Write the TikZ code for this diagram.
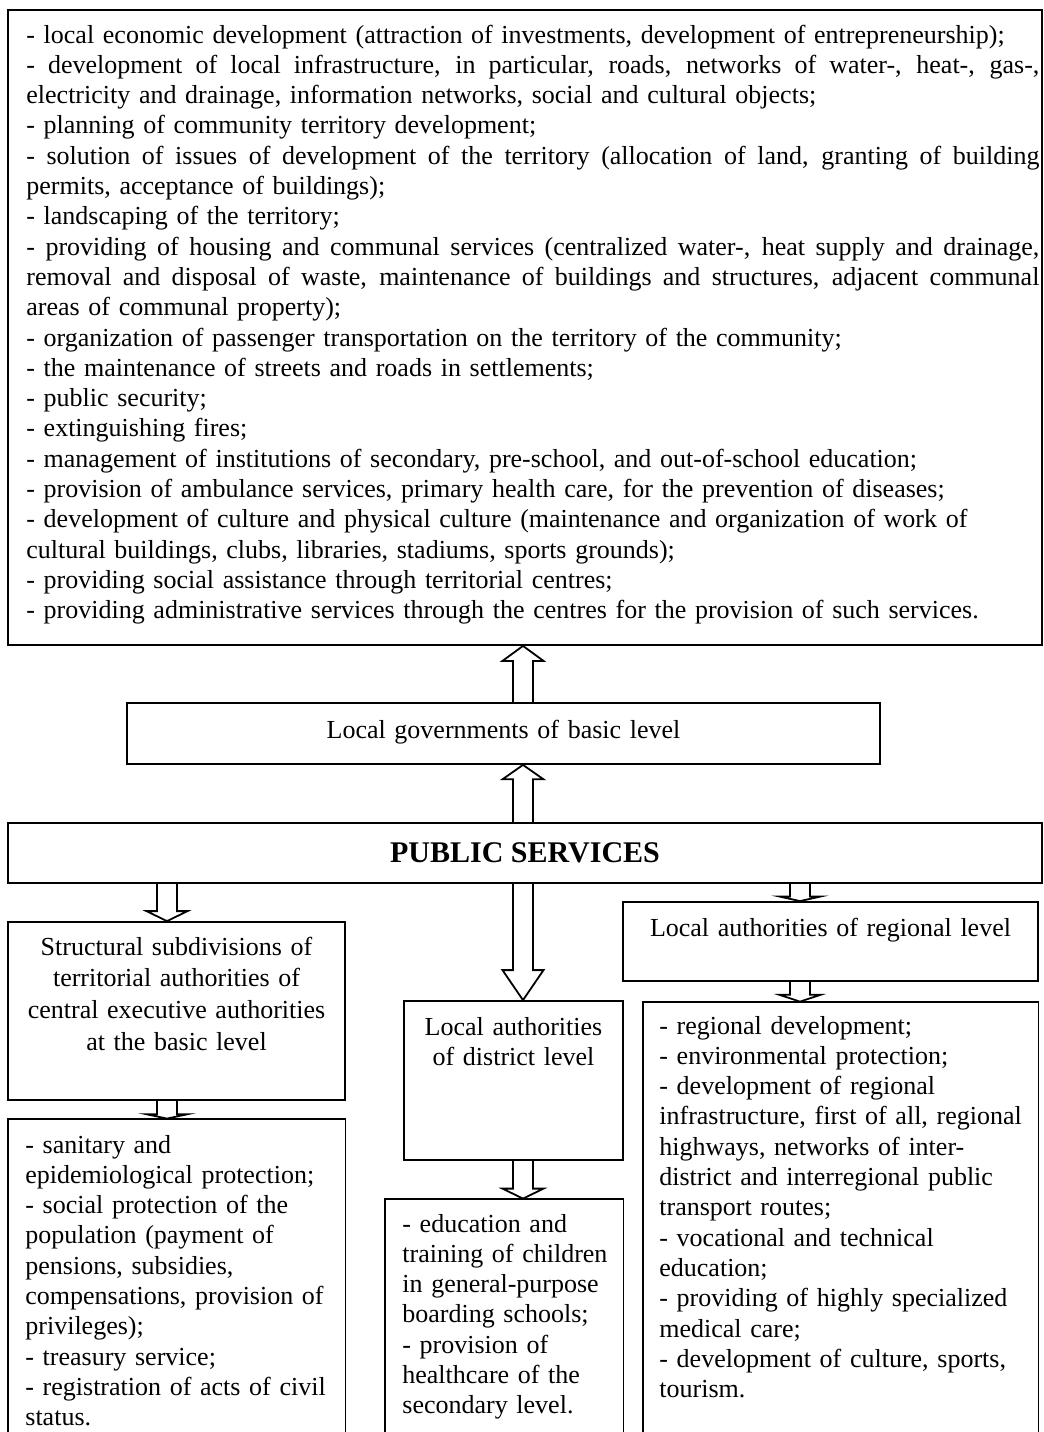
\documentclass[tikz,border=0pt]{standalone}
\usepackage{fontspec}
\setmainfont{Liberation Serif}
\usetikzlibrary{calc,fit}
\tikzset{
  box/.style={draw=black, line width=0.9pt, inner sep=0pt},
  openbox/.style={inner sep=0pt},
  listtxt/.style={inner sep=0pt, font=\fontsize{13}{15.15}\selectfont, align=left, text width=#1, anchor=base west},
  titletxt/.style={inner sep=0pt, font=\fontsize{13}{#1}\selectfont, align=center, text width=200pt, anchor=base},
  barrow/.style={draw=black, line width=0.9pt, line join=miter, to path={
    let \p1=(\tikztostart), \p2=(\tikztotarget), \p3=($(\tikztotarget)!#1!(\tikztostart)$) in
    (\x1-5pt,\y1) -- (\x1-5pt,\y3) -- (\x1-10.25pt,\y3) -- (\x1,\y2)
    -- (\x1+10.25pt,\y3) -- (\x1+5pt,\y3) -- (\x1+5pt,\y1)}},
}
\newcommand{\jline}[1]{\leavevmode\hbox to 506.5pt{\spaceskip=0.25em plus 1fil\relax #1}}
\begin{document}
\begin{tikzpicture}[x=0.5pt,y=-0.5pt]
\useasboundingbox (0,0) rectangle (1044,1432);
% boxes
\node[box, fit={(8,10) (1042,645)}] (topbox) {};
\node[box, fit={(127,703) (880,764)}] (lg) {};
\node[box, fit={(8,823) (1042,883)}] (ps) {};
\node[box, fit={(8,922) (345,1100)}] (sb) {};
\node[box, fit={(404,1001) (623,1160)}] (db) {};
\node[box, fit={(623,902) (1038,981)}] (rb) {};
\node[openbox, fit={(8,1119) (345,1432)}] (sl) {};
\node[openbox, fit={(385,1199) (623,1432)}] (dl) {};
\node[openbox, fit={(643,1002) (1038,1432)}] (rl) {};
\draw[line width=0.9pt] (sl.south west) -- (sl.north west) -- (sl.north east) -- (sl.south east);
\draw[line width=0.9pt] (dl.south west) -- (dl.north west) -- (dl.north east) -- (dl.south east);
\draw[line width=0.9pt] (rl.south west) -- (rl.north west) -- (rl.north east) -- (rl.south east);
% texts
\node[listtxt=506.5pt] (toptext) at (26,43) {%
- local economic development (attraction of investments, development of entrepreneurship);\\
\jline{- development of local infrastructure, in particular, roads, networks of water-, heat-, gas-,}\\
electricity and drainage, information networks, social and cultural objects;\\
- planning of community territory development;\\
\jline{- solution of issues of development of the territory (allocation of land, granting of building}\\
permits, acceptance of buildings);\\
- landscaping of the territory;\\
\jline{- providing of housing and communal services (centralized water-, heat supply and drainage,}\\
\jline{removal and disposal of waste, maintenance of buildings and structures, adjacent communal}\\
areas of communal property);\\
- organization of passenger transportation on the territory of the community;\\
- the maintenance of streets and roads in settlements;\\
- public security;\\
- extinguishing fires;\\
- management of institutions of secondary, pre-school, and out-of-school education;\\
- provision of ambulance services, primary health care, for the prevention of diseases;\\
- development of culture and physical culture (maintenance and organization of work of\\
cultural buildings, clubs, libraries, stadiums, sports grounds);\\
- providing social assistance through territorial centres;\\
- providing administrative services through the centres for the provision of such services.};
\node[titletxt=15.15, text width=370pt] (lgtext) at (503.5,738) {Local governments of basic level};
\node[inner sep=0pt, anchor=base, font=\fontsize{15}{18}\selectfont\bfseries] (pstext) at (525,862) {PUBLIC SERVICES};
\node[titletxt=15.85, text width=165pt] (sbtext) at (176.5,955) {Structural subdivisions of\\ territorial authorities of\\ central executive authorities\\ at the basic level};
\node[titletxt=15, text width=105pt] (dbtext) at (513.5,1035) {Local authorities\\ of district level};
\node[titletxt=15.15] (rbtext) at (830.5,936) {Local authorities of regional level};
\node[listtxt=180pt] (sltext) at (25,1153) {%
- sanitary and\\
epidemiological protection;\\
- social protection of the\\
population (payment of\\
pensions, subsidies,\\
compensations, provision of\\
privileges);\\
- treasury service;\\
- registration of acts of civil\\
status.};
\node[listtxt=140pt] (dltext) at (402,1232) {%
- education and\\
training of children\\
in general-purpose\\
boarding schools;\\
- provision of\\
healthcare of the\\
secondary level.};
\node[listtxt=200pt] (rltext) at (659,1034) {%
- regional development;\\
- environmental protection;\\
- development of regional\\
infrastructure, first of all, regional\\
highways, networks of inter-\\
district and interregional public\\
transport routes;\\
- vocational and technical\\
education;\\
- providing of highly specialized\\
medical care;\\
- development of culture, sports,\\
tourism.};
% arrow axes
\coordinate (ax) at (523,0);
\coordinate (bx) at (167,0);
\coordinate (cx) at (800,0);
% arrows
\draw[barrow=7.5pt] (lg.north -| ax) to (topbox.south -| ax);
\draw[barrow=7.2pt] (ps.north -| ax) to (lg.south -| ax);
\draw[barrow=5pt] (ps.south -| bx) to (sb.north -| bx);
\draw[barrow=15pt] (ps.south -| ax) to (db.north -| ax);
\draw[barrow=2.3pt] (ps.south -| cx) to (rb.north -| cx);
\draw[barrow=3.4pt] (rb.south -| cx) to (rl.north -| cx);
\draw[barrow=2.2pt] (sb.south -| bx) to (sl.north -| bx);
\draw[barrow=5pt] (db.south -| ax) to (dl.north -| ax);
\end{tikzpicture}
\end{document}
